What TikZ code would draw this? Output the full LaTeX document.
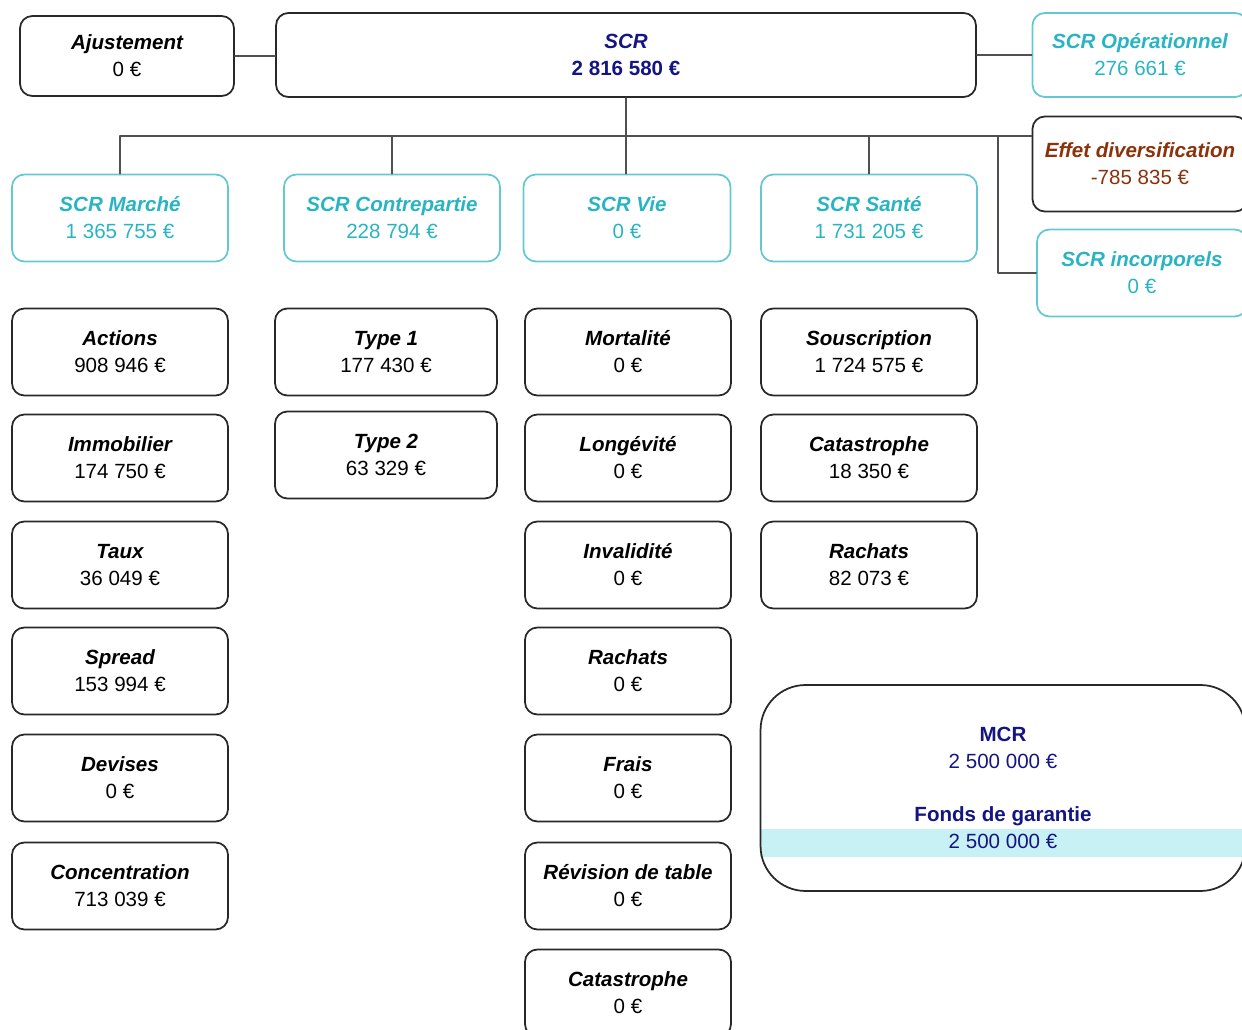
\documentclass[tikz,border=0pt]{standalone}
\usepackage{fontspec}
\setmainfont{Liberation Sans}
\definecolor{navy}{RGB}{20,20,130}
\definecolor{tealtext}{RGB}{40,180,195}
\definecolor{tealline}{RGB}{100,200,210}
\definecolor{rust}{RGB}{140,50,10}
\definecolor{bandcyan}{RGB}{200,241,245}
\definecolor{boxgray}{RGB}{40,40,40}
\definecolor{linegray}{RGB}{80,80,80}
\newcommand{\boxtitle}[1]{{\bfseries\itshape #1}}
\begin{document}
\begin{tikzpicture}[x=0.02cm,y=-0.02cm,font=\fontsize{11.7}{15.3}\selectfont, line join=round, line cap=round,
	box/.style={draw=boxgray,line width=1pt,rounded corners=7pt,align=center,inner sep=0pt,minimum width=4.32cm,minimum height=1.74cm},
	mod/.style={box,draw=tealline,text=tealtext},
	link/.style={draw=linegray,line width=0.9pt}]
			\useasboundingbox (0,0) rectangle (1242,1030);
			\clip (0,0) rectangle (1242,1030);
			% top row
			\node[box,minimum width=4.28cm,minimum height=1.6cm] (ajust) at (127,56) {\boxtitle{Ajustement}\\0 €};
			\node[box,minimum width=14cm,minimum height=1.68cm,text=navy] (scr) at (626,55) {\boxtitle{SCR}\\\textbf{2 816 580 €}};
			\node[mod,minimum width=4.3cm,minimum height=1.68cm] (oper) at (1140,55) {\boxtitle{SCR Opérationnel}\\276 661 €};
			\node[box,minimum width=4.3cm,minimum height=1.9cm,text=rust] (divers) at (1140,164) {\boxtitle{Effet diversification}\\-785 835 €};
			\node[mod,minimum width=4.2cm] (incorp) at (1142,273) {\boxtitle{SCR incorporels}\\0 €};
			% modules
			\node[mod] (marche) at (120,218) {\boxtitle{SCR Marché}\\1 365 755 €};
			\node[mod] (contre) at (392,218) {\boxtitle{SCR Contrepartie}\\228 794 €};
			\node[mod,minimum width=4.14cm] (vie) at (627,218) {\boxtitle{SCR Vie}\\0 €};
			\node[mod] (sante) at (869,218) {\boxtitle{SCR Santé}\\1 731 205 €};
			% links
			\coordinate (bus) at (626,136);
			\coordinate (split) at (998,136);
			\draw[link] (ajust.east) -- (ajust.east -| scr.west);
			\draw[link] (scr.east) -- (scr.east -| oper.west);
			\draw[link] (scr.south) -- (scr.south |- vie.north);
			\draw[link] (marche.north) |- (divers.west |- bus);
			\foreach \n in {contre,sante}{
				\draw[link] (\n.north) -- (\n.north |- bus);}
			\draw[link] (split) |- (incorp.west);
			% sub-modules
			\foreach \t/\v/\y [count=\i] in {Actions/908 946 €/352, Immobilier/174 750 €/458, Taux/36 049 €/565, Spread/153 994 €/671, Devises/0 €/778, Concentration/713 039 €/886}{
				\node[box] (mar\i) at (120,\y) {\boxtitle{\t}\\\v};}
			\foreach \t/\v/\y [count=\i] in {Type 1/177 430 €/352, Type 2/63 329 €/455}{
				\node[box,minimum width=4.44cm] (ctr\i) at (386,\y) {\boxtitle{\t}\\\v};}
			\foreach \t/\v/\y [count=\i] in {Mortalité/0 €/352, Longévité/0 €/458, Invalidité/0 €/565, Rachats/0 €/671, Frais/0 €/778, Révision de table/0 €/886, Catastrophe/0 €/993}{
				\node[box,minimum width=4.12cm] (vie\i) at (628,\y) {\boxtitle{\t}\\\v};}
			\foreach \t/\v/\y [count=\i] in {Souscription/1 724 575 €/352, Catastrophe/18 350 €/458, Rachats/82 073 €/565}{
				\node[box] (san\i) at (869,\y) {\boxtitle{\t}\\\v};}
			% MCR
			\fill[bandcyan] (760,829) rectangle (1242,857);
			\node[box,minimum width=9.7cm,minimum height=4.12cm,rounded corners=0.9cm,text=navy] (mcr) at (1003,788) {\textbf{MCR}\\2 500 000 €\\[15pt]\textbf{Fonds de garantie}\\2 500 000 €};
		\end{tikzpicture}
\end{document}
